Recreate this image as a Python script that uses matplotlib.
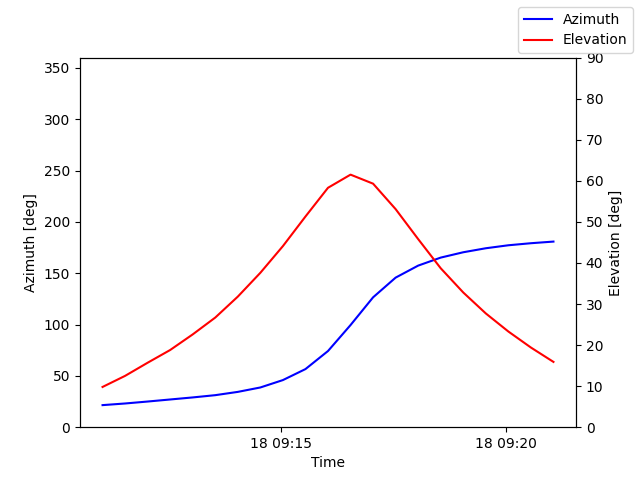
import datetime as dt
import matplotlib
matplotlib.use("Agg")
import matplotlib.pyplot as plt

# pass samples, every 30 s
start = dt.datetime(2024, 1, 18, 9, 11, 3)
step_s = 30

azimuth = [21.5, 23.1, 25.0, 27.0, 29.0, 31.2, 34.4, 38.7, 45.9, 56.6,
           74.2, 99.5, 126.5, 145.7, 157.4, 165.2, 170.4, 174.3, 177.2,
           179.2, 180.8]
elevation = [9.8, 12.5, 15.7, 18.8, 22.6, 26.7, 31.8, 37.6, 44.1, 51.3,
             58.3, 61.5, 59.3, 53.1, 45.8, 38.7, 32.8, 27.7, 23.3,
             19.4, 15.9]

times = [start + dt.timedelta(seconds=step_s * i) for i in range(len(azimuth))]

fig, ax1 = plt.subplots(figsize=(6.4, 4.8), dpi=100)
ax1.plot(times, azimuth, color='blue', label='Azimuth')
ax1.set_ylim(0, 360)
ax1.set_ylabel('Azimuth [deg]')
ax1.set_xlabel('Time')

ax2 = ax1.twinx()
ax2.plot(times, elevation, color='red', label='Elevation')
ax2.set_ylim(0, 90)
ax2.set_ylabel('Elevation [deg]')

fig.legend()
fig.savefig('out.png')
